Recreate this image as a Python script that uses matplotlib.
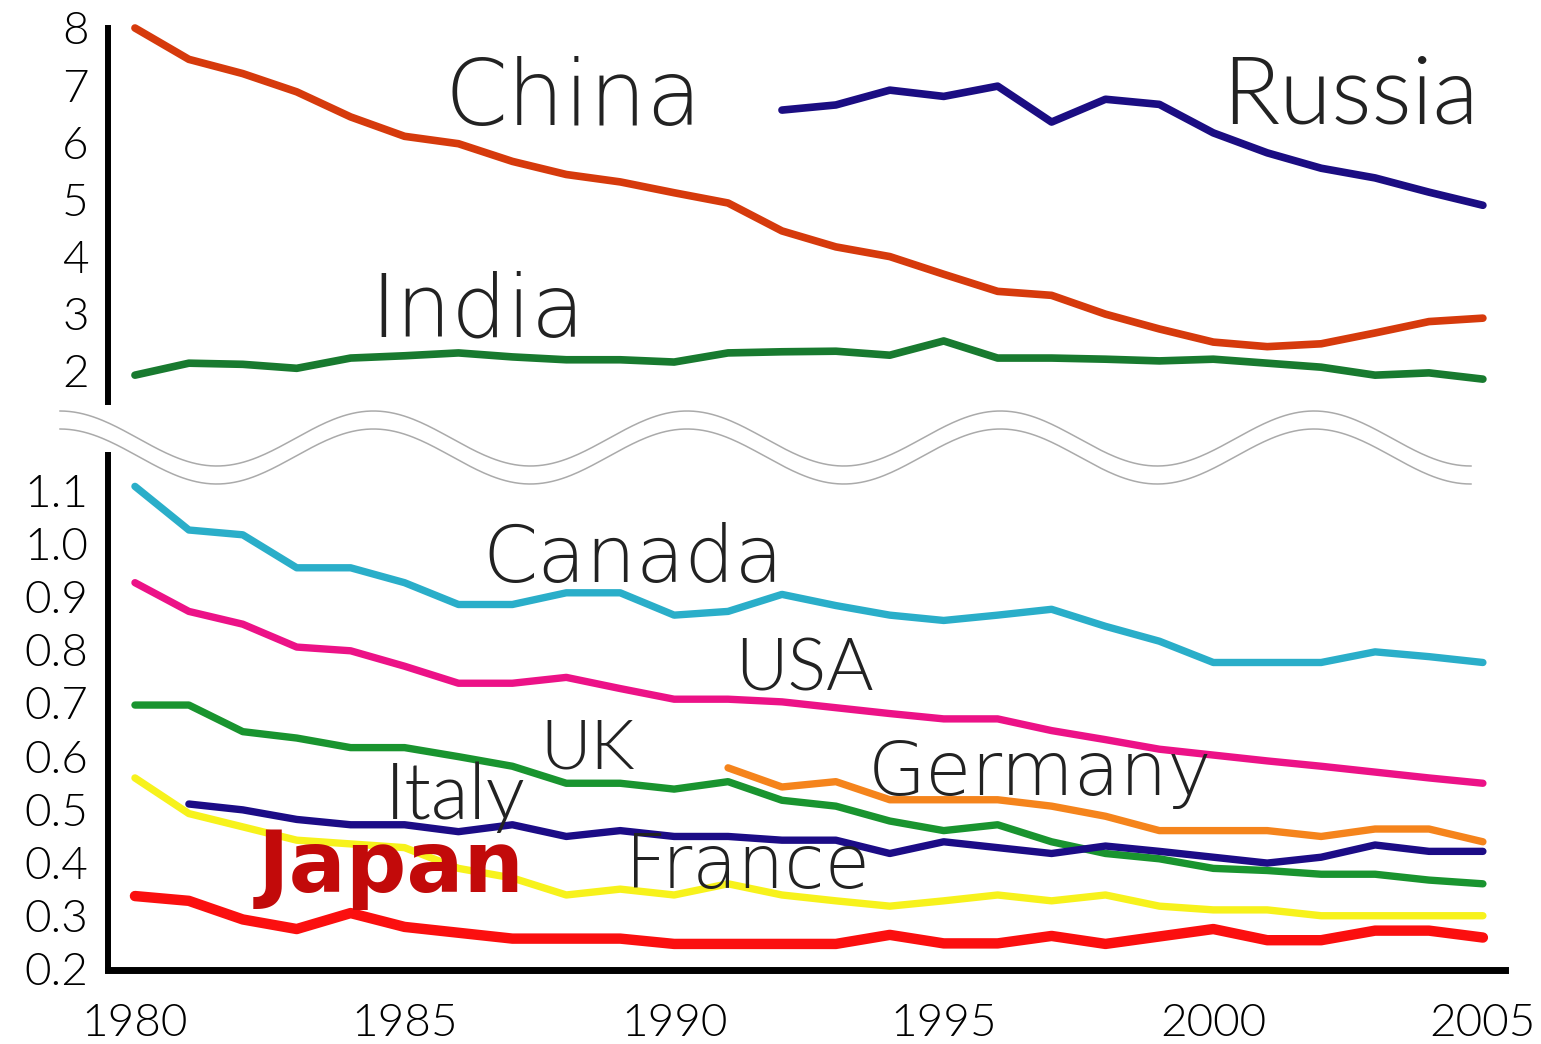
import numpy as np
import matplotlib
matplotlib.use('Agg')
import matplotlib.pyplot as plt
from matplotlib.lines import Line2D

plt.rcParams['font.family'] = ['Lato', 'DejaVu Sans']
plt.rcParams['font.weight'] = 300

years = list(range(1980, 2006))

# top panel (large values)
china = [8.0, 7.45, 7.2, 6.88, 6.44, 6.1, 5.97, 5.66, 5.43, 5.3, 5.11, 4.93, 4.44, 4.16,
         3.99, 3.68, 3.38, 3.31, 2.98, 2.72, 2.49, 2.41, 2.46, 2.65, 2.85, 2.91]
russia_years = list(range(1992, 2006))
russia = [6.56, 6.65, 6.91, 6.8, 6.98, 6.35, 6.75, 6.66, 6.16, 5.81, 5.54, 5.37, 5.12, 4.89]
india = [1.91, 2.12, 2.1, 2.03, 2.21, 2.25, 2.3, 2.23, 2.18, 2.18, 2.14, 2.3, 2.32,
         2.33, 2.26, 2.51, 2.21, 2.21, 2.19, 2.16, 2.19, 2.12, 2.05, 1.91, 1.95, 1.84]

# bottom panel (small values)
canada = [1.107, 1.025, 1.016, 0.954, 0.954, 0.926, 0.885, 0.885, 0.907, 0.907, 0.865, 0.872,
          0.904, 0.883, 0.865, 0.855, 0.865, 0.876, 0.844, 0.816, 0.776, 0.776, 0.776, 0.796,
          0.787, 0.776]
usa = [0.926, 0.872, 0.848, 0.805, 0.798, 0.769, 0.737, 0.737, 0.748, 0.727, 0.707, 0.707,
       0.702, 0.691, 0.68, 0.67, 0.67, 0.648, 0.631, 0.613, 0.602, 0.591, 0.581, 0.57,
       0.559, 0.549]
uk = [0.696, 0.696, 0.646, 0.634, 0.616, 0.616, 0.599, 0.581, 0.549, 0.549, 0.538, 0.552,
      0.517, 0.506, 0.478, 0.46, 0.471, 0.439, 0.417, 0.407, 0.389, 0.385, 0.378, 0.378,
      0.367, 0.36]
germany_years = list(range(1991, 2006))
germany = [0.578, 0.542, 0.552, 0.518, 0.518, 0.518, 0.506, 0.487, 0.46, 0.46, 0.46, 0.449,
           0.463, 0.463, 0.439]
france_years = list(range(1981, 2006))
france = [0.51, 0.499, 0.481, 0.471, 0.471, 0.458, 0.471, 0.449, 0.46, 0.449, 0.449, 0.442,
          0.442, 0.417, 0.439, 0.428, 0.417, 0.431, 0.421, 0.41, 0.399, 0.41, 0.433, 0.421,
          0.421]
italy = [0.559, 0.492, 0.467, 0.442, 0.435, 0.428, 0.389, 0.371, 0.339, 0.35, 0.339, 0.36,
         0.339, 0.328, 0.318, 0.328, 0.339, 0.328, 0.339, 0.318, 0.311, 0.311, 0.3, 0.3,
         0.3, 0.3]
japan = [0.337, 0.328, 0.293, 0.275, 0.305, 0.279, 0.268, 0.257, 0.257, 0.257, 0.247, 0.247,
         0.247, 0.247, 0.264, 0.248, 0.248, 0.262, 0.247, 0.261, 0.275, 0.254, 0.254, 0.272,
         0.272, 0.259]

top_ticks = [2, 3, 4, 5, 6, 7, 8]
bottom_ticks = [0.2, 0.3, 0.4, 0.5, 0.6, 0.7, 0.8, 0.9, 1.0, 1.1]
x_ticks = [1980, 1985, 1990, 1995, 2000, 2005]

W, H = 1541, 1044


def box(left, top, right, bottom):
    return [left / W, (H - bottom) / H, (right - left) / W, (bottom - top) / H]


fig = plt.figure(figsize=(W / 100, H / 100), dpi=100)
ax_top = fig.add_axes(box(108, 28, 1505, 402))
ax_bot = fig.add_axes(box(108, 455, 1505, 970))

xlim = (1979.5, 2005.41)
for ax in (ax_top, ax_bot):
    ax.set_xlim(*xlim)
    for s in ('top', 'right'):
        ax.spines[s].set_visible(False)
    ax.spines['left'].set_linewidth(4.3)
    ax.tick_params(length=0, labelsize=33, pad=14)

ax_top.spines['bottom'].set_visible(False)
ax_top.set_ylim(1.439, 8.0)
ax_top.set_xticks([])
ax_top.set_yticks(top_ticks)
ax_top.set_yticklabels([str(t) for t in top_ticks])

ax_bot.set_ylim(0.198, 1.166)
ax_bot.spines['bottom'].set_linewidth(5)
ax_bot.set_yticks(bottom_ticks)
ax_bot.set_yticklabels([f'{t:.1f}' for t in bottom_ticks])
ax_bot.set_xticks(x_ticks)
ax_bot.set_xticklabels([str(t) for t in x_ticks])
ax_bot.tick_params(axis='x', pad=24)

kw = dict(clip_on=False, solid_capstyle='round', solid_joinstyle='round')
ax_top.plot(years, china, color='#d63a0c', lw=5.5, **kw)
ax_top.plot(russia_years, russia, color='#1b0d82', lw=5.5, **kw)
ax_top.plot(years, india, color='#187a2f', lw=5.5, **kw)

ax_bot.plot(years, canada, color='#2aaec9', lw=5.3, **kw)
ax_bot.plot(years, usa, color='#ec1287', lw=5.3, **kw)
ax_bot.plot(years, uk, color='#19942f', lw=5.3, **kw)
ax_bot.plot(germany_years, germany, color='#f5841c', lw=5.3, **kw)
ax_bot.plot(years, italy, color='#f7f21c', lw=5.3, **kw)
ax_bot.plot(france_years, france, color='#1c0c86', lw=5.3, **kw)
ax_bot.plot(years, japan, color='#fb0f0f', lw=7.5, **kw)

# country labels: DejaVu for the wide round ones, Lato for the narrow ones
wide = dict(color='#222222', ha='left', va='baseline', zorder=5,
            family=['DejaVu Sans'], fontweight=200)
narrow = dict(color='#222222', ha='left', va='baseline', zorder=5,
              family=['Lato', 'DejaVu Sans'], fontweight=300)
ax_top.text(1985.75, 6.30, 'China', fontsize=65, **wide)
ax_top.text(2000.16, 6.33, 'Russia', fontsize=68, **narrow)
ax_top.text(1984.36, 2.58, 'India', fontsize=63, **wide)

ax_bot.text(1986.44, 0.927, 'Canada', fontsize=57, **wide)
ax_bot.text(1991.13, 0.724, 'USA', fontsize=52, **narrow)
ax_bot.text(1987.51, 0.577, 'UK', fontsize=50, **narrow)
ax_bot.text(1993.59, 0.527, 'Germany', fontsize=54, **wide)
ax_bot.text(1984.64, 0.482, 'Italy', fontsize=56, **narrow)
ax_bot.text(1989.09, 0.352, 'France', fontsize=53, **wide)
ax_bot.text(1982.28, 0.344, 'Japan', color='#c20a0a', fontsize=61, fontweight='bold',
            family=['DejaVu Sans'], ha='left', va='baseline', zorder=5)

# wavy axis break
wx = np.linspace(60, 1471, 600)
wave = 438.5 - 27.5 * np.cos(2 * np.pi * (wx - 60) / 313.5)
for off in (0, 18):
    fig.add_artist(Line2D(wx / W, (H - (wave + off)) / H, color='#aaaaaa', lw=1.1))

fig.savefig('out.png', dpi=100, facecolor='white')
